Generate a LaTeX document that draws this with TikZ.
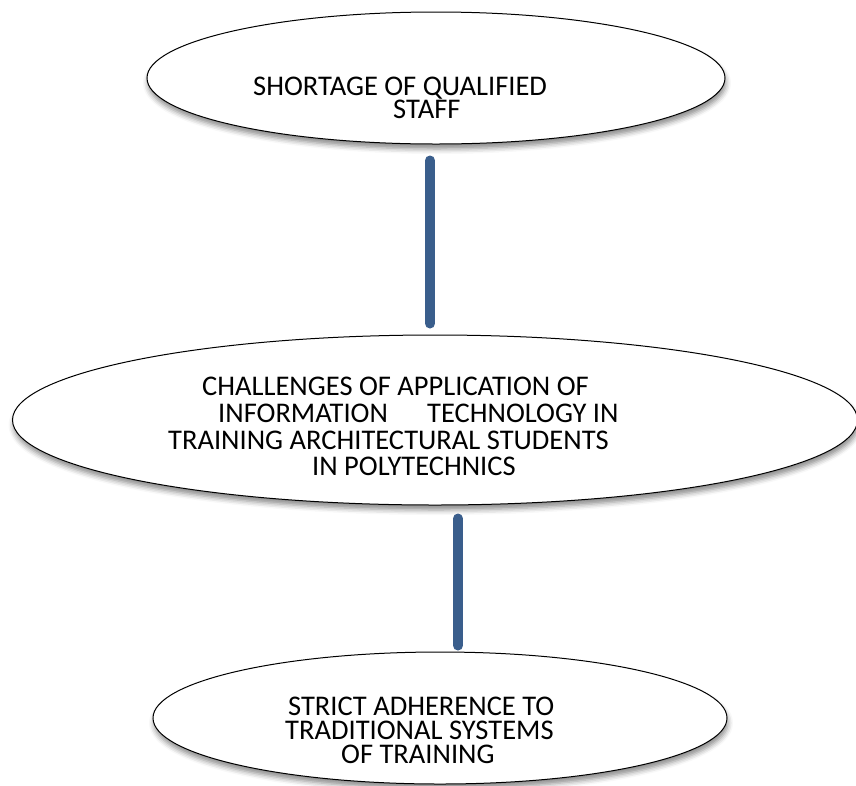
\documentclass[tikz,border=0pt]{standalone}
\usepackage{fontspec}
\setmainfont{Carlito}
\usetikzlibrary{shapes.geometric,shadows.blur}
\definecolor{connblue}{RGB}{58,94,140}
\tikzset{
  oval/.style={ellipse, draw=black, line width=1pt, fill=white, inner sep=0pt,
    blur shadow={shadow xshift=1pt, shadow yshift=-5pt, shadow blur radius=5pt, shadow opacity=45}},
  txt/.style={anchor=base west, inner sep=0pt, font=\fontsize{28.5}{30}\selectfont},
  conn/.style={draw=connblue, line width=10pt, line cap=round}
}
\begin{document}
\begin{tikzpicture}[x=1pt,y=-1pt]
\useasboundingbox (0,0) rectangle (856,785);
% ellipses
\node[oval, minimum width=578pt, minimum height=132pt] (top) at (436,78) {};
\node[oval, minimum width=845pt, minimum height=170pt] (mid) at (435,420) {};
\node[oval, minimum width=574pt, minimum height=132pt] (bot) at (440,718) {};
% texts
\node[txt] (t1) at (253,95) {SHORTAGE OF QUALIFIED};
\node[txt] (t2) at (393,118) {STAFF};
\node[txt] (m1) at (202,395) {CHALLENGES OF APPLICATION OF};
\node[txt] (m2a) at (218,422) {INFORMATION};
\node[txt] (m2b) at (427,422) {TECHNOLOGY IN};
\node[txt] (m3) at (168,449) {TRAINING ARCHITECTURAL STUDENTS};
\node[txt] (m4) at (312,475) {IN POLYTECHNICS};
\node[txt] (b1) at (288,715) {STRICT ADHERENCE TO};
\node[txt] (b2) at (285,739) {TRADITIONAL SYSTEMS};
\node[txt] (b3) at (341,763) {OF TRAINING};
% connectors
\draw[conn] ([xshift=-6pt,yshift=-16pt]top.south) -- ([xshift=-5pt,yshift=11pt]mid.north);
\draw[conn] ([xshift=23pt,yshift=-13pt]mid.south) -- ([xshift=18pt,yshift=6pt]bot.north);
\end{tikzpicture}
\end{document}
